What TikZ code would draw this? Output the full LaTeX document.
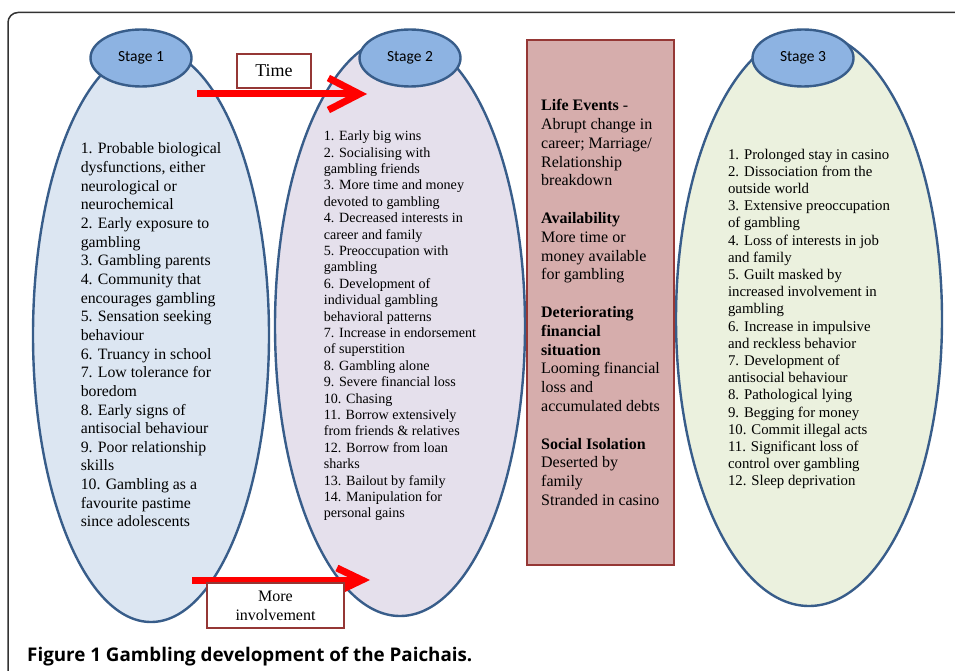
\documentclass[tikz,border=0pt]{standalone}
\usepackage{fontspec}
\setmainfont{Liberation Serif}
\newfontfamily\stagefont{Carlito}
\newfontfamily\capfont{Open Sans}
\usetikzlibrary{shapes.geometric}
\usetikzlibrary{arrows.meta}
\definecolor{stageblue}{RGB}{141,179,226}
\definecolor{edgeblue}{RGB}{56,93,138}
\definecolor{oneblue}{RGB}{220,230,242}
\definecolor{twolilac}{RGB}{229,224,236}
\definecolor{threegreen}{RGB}{235,241,222}
\definecolor{boxred}{RGB}{149,55,53}
\definecolor{boxpink}{RGB}{214,173,172}
\tikzset{
  bigoval/.style={ellipse, draw=edgeblue, line width=2.4pt, inner sep=0pt, align=left},
  stageoval/.style={ellipse, draw=edgeblue, fill=stageblue, line width=2.4pt, inner sep=0pt,
    minimum width=101pt, minimum height=57pt, font=\stagefont\fontsize{15.5}{18}\selectfont},
  labelbox/.style={draw=boxred, line width=2pt, fill=white, inner sep=0pt, align=center},
  redarrow/.style={red, line width=7pt}
}

\begin{document}
\begin{tikzpicture}[x=1pt, y=-1pt]
  \useasboundingbox (0,0) rectangle (955,671);

  % frame round the figure
  \draw [line width=1.5pt, black!80, rounded corners=10pt] (8,671) -- (8,12.5) -- (955,12.5);

  % the three stages
  \node [bigoval, fill=oneblue, minimum width=236pt, minimum height=574pt,
    font=\fontsize{15.8}{18.65}\selectfont] (s1) at (151,335) {%
    1. Probable biological\\ dysfunctions, either\\ neurological or\\ neurochemical\\
    2. Early exposure to\\ gambling\\ 3. Gambling parents\\ 4. Community that\\
    encourages gambling\\ 5. Sensation seeking\\ behaviour\\ 6. Truancy in school\\
    7. Low tolerance for\\ boredom\\ 8. Early signs of\\ antisocial behaviour\\
    9. Poor relationship\\ skills\\ 10. Gambling as a\\ favourite pastime\\ since adolescents};
  \node [bigoval, fill=twolilac, minimum width=250pt, minimum height=580pt,
    font=\fontsize{14.1}{16.4}\selectfont] (s2) at (400,326) {%
    1. Early big wins\\ 2. Socialising with\\ gambling friends\\ 3. More time and money\\
    devoted to gambling\\ 4. Decreased interests in\\ career and family\\
    5. Preoccupation with\\ gambling\\ 6. Development of\\ individual gambling\\
    behavioral patterns\\ 7. Increase in endorsement\\ of superstition\\
    8. Gambling alone\\ 9. Severe financial loss\\ 10. Chasing\\ 11. Borrow extensively\\
    from friends \& relatives\\ 12. Borrow from loan\\ sharks\\ 13. Bailout by family\\
    14. Manipulation for\\ personal gains};
  \node [bigoval, fill=threegreen, minimum width=266pt, minimum height=574pt,
    font=\fontsize{14.8}{17.2}\selectfont] (s3) at (809,319) {%
    1. Prolonged stay in casino\\ 2. Dissociation from the\\ outside world\\
    3. Extensive preoccupation\\ of gambling\\ 4. Loss of interests in job\\ and family\\
    5. Guilt masked by\\ increased involvement in\\ gambling\\ 6. Increase in impulsive\\
    and reckless behavior\\ 7. Development of\\ antisocial behaviour\\ 8. Pathological lying\\
    9. Begging for money\\ 10. Commit illegal acts\\ 11. Significant loss of\\
    control over gambling\\ 12. Sleep deprivation};

  \node [stageoval] (stage1) at (141,58) {Stage 1};
  \node [stageoval] (stage2) at (410,58) {Stage 2};
  \node [stageoval] (stage3) at (803,58) {Stage 3};

  % factors in between
  \node [draw=boxred, line width=2pt, fill=boxpink, inner sep=0pt, align=left,
    minimum width=147pt, minimum height=525pt,
    font=\fontsize{16}{18.8}\selectfont] (events) at (600.5,302.5) {%
    \textbf{Life Events} -\\ Abrupt change in\\ career; Marriage/\\ Relationship\\ breakdown\\[18.8pt]
    \textbf{Availability}\\ More time or\\ money available\\ for gambling\\[18.8pt]
    \textbf{Deteriorating}\\ \textbf{financial}\\ \textbf{situation}\\ Looming financial\\
    loss and\\ accumulated debts\\[18.8pt]
    \textbf{Social Isolation}\\ Deserted by\\ family\\ Stranded in casino};

  % arrows
  \coordinate (time tail) at (197,94);
  \coordinate (time head) at (367,94);
  \coordinate (inv tail) at (192,580);
  \coordinate (inv head) at (370,580);
  \draw [redarrow, -{Straight Barb[length=31pt, width=32pt]}] (time tail) -- (time head);
  \draw [redarrow, -{Straight Barb[length=25pt, width=24pt]}] (inv tail) -- (inv head);

  \node [labelbox, minimum width=74pt, minimum height=34pt,
    font=\fontsize{18}{20}\selectfont] (time) at (274,71) {Time};
  \node [labelbox, minimum width=137pt, minimum height=45pt,
    font=\fontsize{16}{19}\selectfont] (more) at (275.5,605.5) {More\\ involvement};

  \node [anchor=base west, inner sep=0pt, font=\capfont\bfseries\fontsize{18.8}{22}\selectfont]
    (caption) at (27,661) {Figure 1 Gambling development of the Paichais.};
\end{tikzpicture}
\end{document}
